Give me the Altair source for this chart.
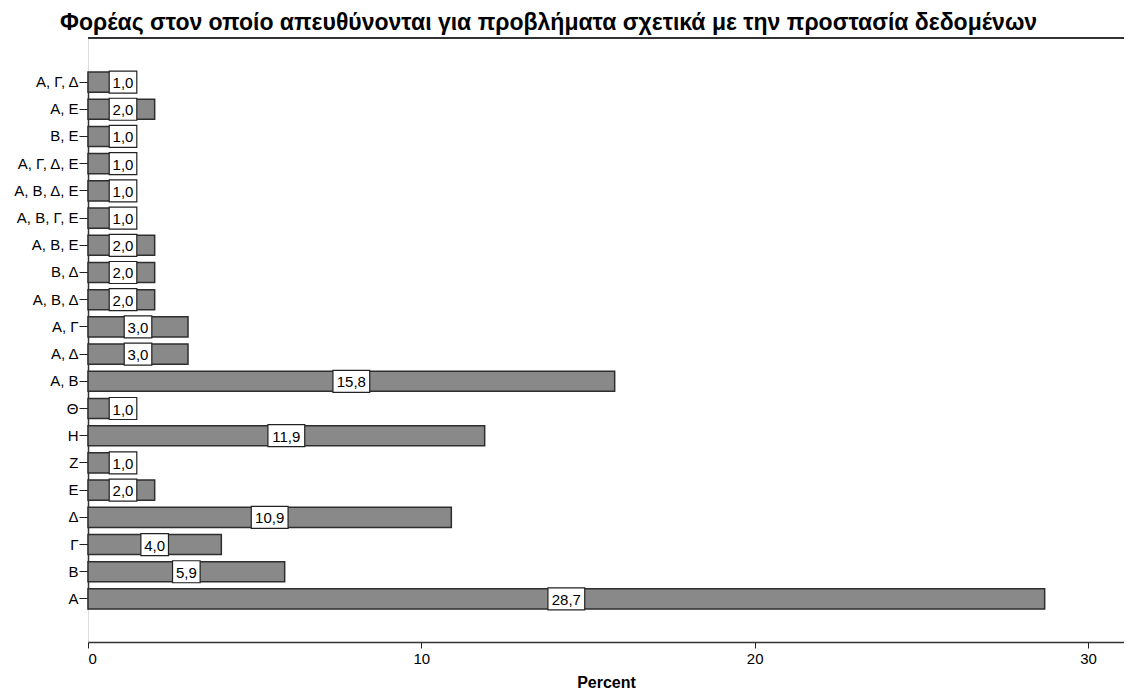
import altair as alt
import pandas as pd

categories = ["Α, Γ, Δ", "Α, Ε", "Β, Ε", "Α, Γ, Δ, Ε", "Α, Β, Δ, Ε", "Α, Β, Γ, Ε",
              "Α, Β, Ε", "Β, Δ", "Α, Β, Δ", "Α, Γ", "Α, Δ", "Α, Β", "Θ", "Η",
              "Ζ", "Ε", "Δ", "Γ", "Β", "Α"]
values = [1.0, 2.0, 1.0, 1.0, 1.0, 1.0, 2.0, 2.0, 2.0, 3.0, 3.0, 15.8, 1.0, 11.9,
          1.0, 2.0, 10.9, 4.0, 5.9, 28.7]
labels = ["1,0", "2,0", "1,0", "1,0", "1,0", "1,0", "2,0", "2,0", "2,0", "3,0", "3,0",
          "15,8", "1,0", "11,9", "1,0", "2,0", "10,9", "4,0", "5,9", "28,7"]
x_ticks = [0, 10, 20, 30]

df = pd.DataFrame({"cat": categories, "pct": values, "lab": labels})

FONT = "Liberation Sans"
W, H = 1036, 604
XMAX = W / (1000 / 30)

xscale = alt.Scale(domain=[0, XMAX], nice=False, zero=True)
yscale = alt.Scale(domain=categories, range=[34, 571], paddingInner=0.26, paddingOuter=0)

base = alt.Chart(df)

bars = base.mark_bar(color="#898989", stroke="#2e2e2e", strokeWidth=1.5).encode(
    x=alt.X("pct:Q", scale=xscale,
            axis=alt.Axis(title="Percent", values=x_ticks, grid=False, tickSize=6,
                          tickColor="#222", domainColor="#333", domainWidth=1.5,
                          labelFont=FONT, labelFontSize=15, labelColor="#000",
                          labelPadding=3, titleFont=FONT, titleFontSize=16,
                          titleFontWeight="bold", titleColor="#000", titlePadding=8)),
    y=alt.Y("cat:N", scale=yscale, sort=categories,
            axis=alt.Axis(title=None, tickSize=9, tickColor="#222", domainColor="#333",
                          domainWidth=1.5, labelFont=FONT, labelFontSize=15,
                          labelColor="#000", labelPadding=1)),
)

lab_base = base.transform_calculate(
    cx="max(datum.pct / 2, 1.05)",
    hw="length(datum.lab) * 4.6 * 30 / 1000",
).transform_calculate(
    x1="datum.cx - datum.hw",
    x2="datum.cx + datum.hw",
)

boxes = lab_base.mark_bar(color="#ffffff", stroke="#222222", strokeWidth=1.2,
                          height=22).encode(
    x=alt.X("x1:Q", scale=xscale),
    x2="x2:Q",
    y=alt.Y("cat:N", scale=yscale, sort=categories),
)

texts = lab_base.mark_text(font=FONT, fontSize=15, color="#000", baseline="middle",
                           align="center", dy=1).encode(
    x=alt.X("cx:Q", scale=xscale),
    y=alt.Y("cat:N", scale=yscale, sort=categories),
    text="lab:N",
)

top_rule = alt.Chart(df).mark_rule(color="#333333", strokeWidth=1.5).encode(
    x=alt.value(0), x2=alt.value(W), y=alt.value(0)
)

chart = alt.layer(bars, boxes, texts, top_rule).properties(
    width=W, height=H,
    title=alt.TitleParams(
        "Φορέας στον οποίο απευθύνονται για προβλήματα σχετικά με την προστασία δεδομένων",
        font=FONT, fontSize=23, fontWeight="bold", color="#000", anchor="start",
        frame="group", dx=-28, offset=2),
    autosize=alt.AutoSizeParams(type="none"),
    padding={"left": 80, "top": 30, "right": 0, "bottom": 48},
).configure_view(fill="#f0f0f0", stroke=None).configure(background="#ffffff")

chart.save("out.html", embed_options={"renderer": "svg", "actions": False})
